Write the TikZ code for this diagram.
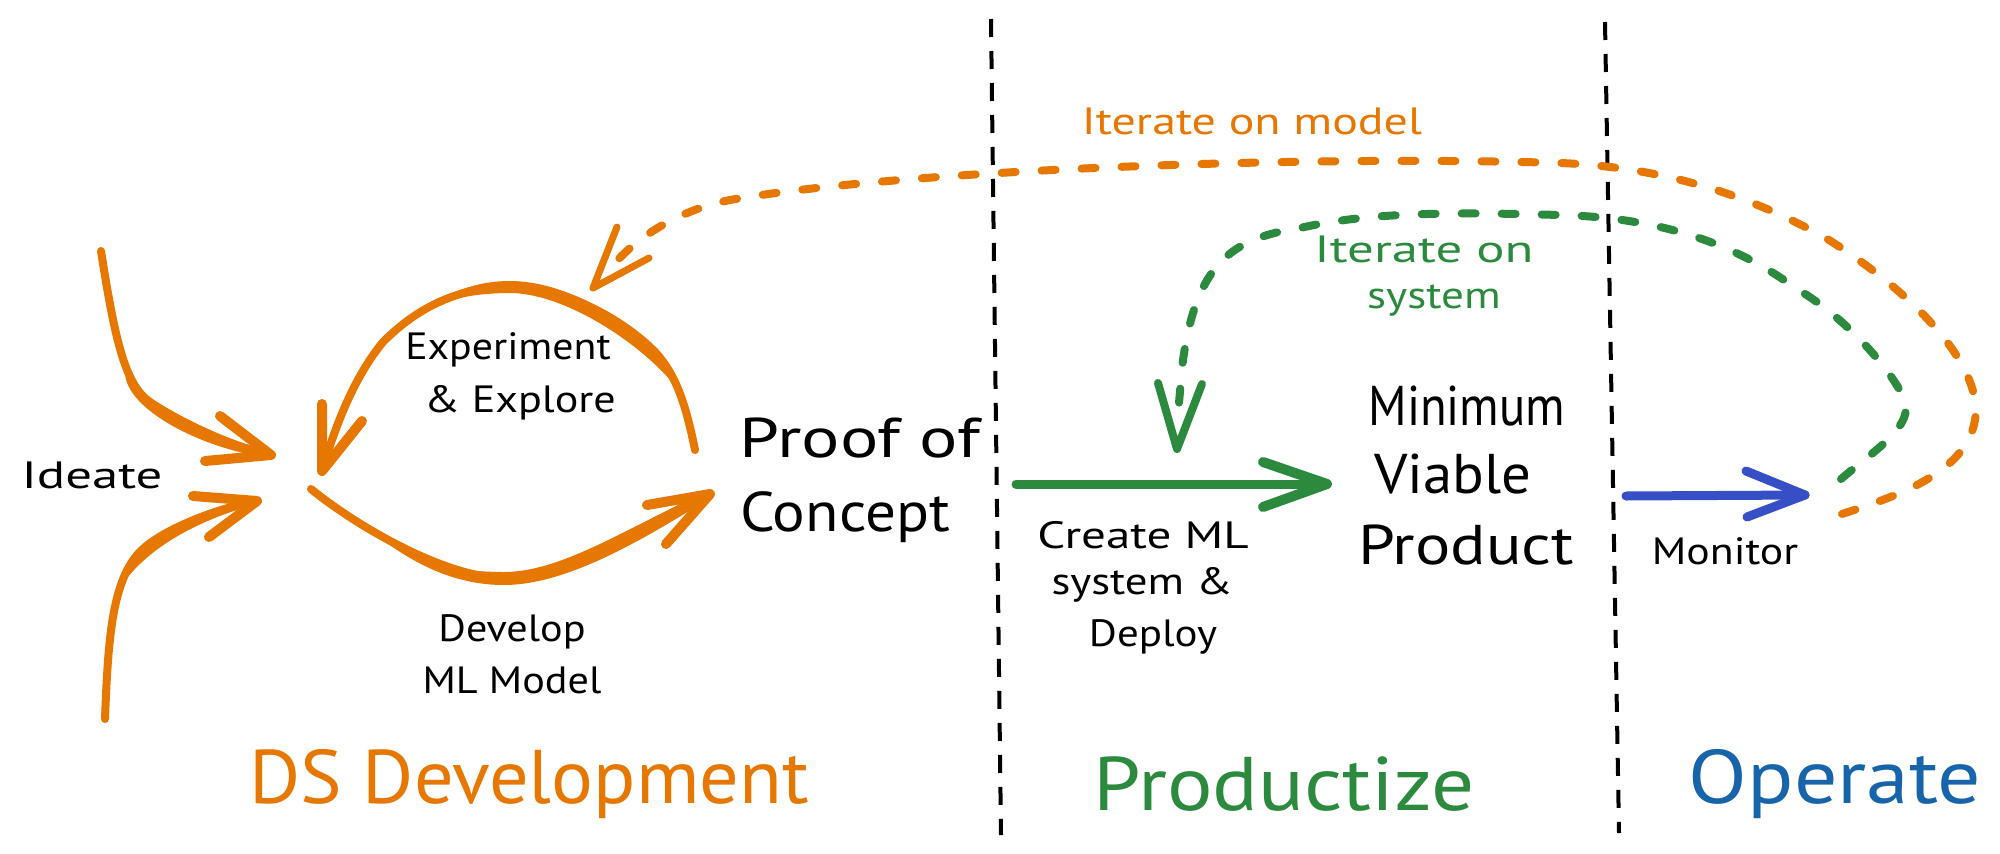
\documentclass[tikz,border=0pt]{standalone}
\usepackage{graphicx}
\usepackage{fontspec}
\setmainfont{PT Sans}
\definecolor{ds}{HTML}{E67700}
\definecolor{prod}{HTML}{2B8A3E}
\definecolor{oper}{HTML}{1864AB}
\definecolor{mon}{HTML}{364FC7}
\newcommand{\wid}[2]{\scalebox{#1}[1]{#2}}
\tikzset{
  lbl/.style={inner sep=0pt,align=center,font=\fontsize{38}{42}\selectfont},
  big/.style={inner sep=0pt,align=center,font=\fontsize{56}{64}\selectfont},
  title/.style={inner sep=0pt,align=center,font=\fontsize{76}{84}\selectfont},
  stroke/.style={line cap=round,line join=round,line width=#1},
  dsline/.style={draw=ds,stroke=8pt},
  dshead/.style={draw=ds,stroke=10pt},
  dsdash/.style={draw=ds,stroke=8pt,dash pattern=on 14pt off 26pt},
  prdash/.style={draw=prod,stroke=8pt,dash pattern=on 14pt off 26pt},
  sep/.style={draw=black,line width=4pt,dash pattern=on 18pt off 14pt},
}
\begin{document}
\begin{tikzpicture}[x=1pt,y=-1pt]
\useasboundingbox (0,0) rectangle (2000,854);
\fill[white] (0,0) rectangle (2000,854);
% coordinates
\coordinate (sepA1) at (991,19); \coordinate (sepA2) at (1001,835);
\coordinate (sepB1) at (1605,22); \coordinate (sepB2) at (1619,833);
\coordinate (topS) at (101,251); \coordinate (topT) at (271,455);
\coordinate (topB1) at (220,416); \coordinate (topB2) at (205,461);
\coordinate (botS) at (105,719); \coordinate (botT) at (257,501);
\coordinate (botB1) at (193,496); \coordinate (botB2) at (209,537);
\coordinate (expS) at (695,450); \coordinate (expT) at (322,471);
\coordinate (expB1) at (322,404); \coordinate (expB2) at (362,421);
\coordinate (devS) at (311,489); \coordinate (devT) at (710,494);
\coordinate (devB1) at (647,505); \coordinate (devB2) at (666,544);
\coordinate (itmS) at (1842,514); \coordinate (itmT) at (593,288);
\coordinate (itmB1) at (617,227); \coordinate (itmB2) at (649,258);
\coordinate (itsS) at (1841,479); \coordinate (itsT) at (1177,449);
\coordinate (itsB1) at (1158,383); \coordinate (itsB2) at (1202,384);
\coordinate (crS) at (1016,484); \coordinate (crT) at (1327,484);
\coordinate (crB1) at (1263,462); \coordinate (crB2) at (1263,507);
\coordinate (monS) at (1626,496); \coordinate (monT) at (1805,495);
\coordinate (monB1) at (1746,471); \coordinate (monB2) at (1747,517);
% separators
\draw[sep] (sepA1) -- (sepA2);
\draw[sep] (sepB1) -- (sepB2);
% ideate arrows
\draw[dsline] (topS) .. controls (115,340) and (125,385) .. (150,402) .. controls (172,417) and (225,445) .. (topT);
\fill[ds] (125,372) .. controls (140,400) and (210,437) .. (271,452) -- (271,458) .. controls (205,450) and (125,410) .. (125,372) -- cycle;
\draw[dshead] (topB1) -- (topT) -- (topB2);
\draw[dsline] (botS) .. controls (108,640) and (112,585) .. (137,555) .. controls (155,533) and (210,510) .. (botT);
\fill[ds] (113,600) .. controls (125,545) and (190,508) .. (257,498) -- (257,504) .. controls (190,522) and (135,555) .. (113,600) -- cycle;
\draw[dshead] (botB1) -- (botT) -- (botB2);
% experiment arc
\draw[dsline] (expS) .. controls (685,400) and (675,375) .. (657,354) .. controls (630,325) and (570,287) .. (510,287) .. controls (450,287) and (410,315) .. (383,342) .. controls (360,370) and (340,410) .. (expT);
\fill[ds] (680,392) .. controls (660,335) and (575,281) .. (510,281) .. controls (475,281) and (450,293) .. (420,308) .. controls (450,298) and (480,293) .. (510,293) .. controls (565,293) and (645,345) .. (680,392) -- cycle;
\draw[dshead] (expB1) -- (expT) -- (expB2);
% develop arc
\draw[dsline] (devS) .. controls (355,525) and (445,578) .. (504,578) .. controls (570,578) and (640,525) .. (devT);
\fill[ds] (360,522) .. controls (410,565) and (460,572) .. (504,572) .. controls (565,572) and (635,522) .. (710,491) -- (712,497) .. controls (650,535) and (570,585) .. (504,585) .. controls (450,585) and (405,560) .. (360,522) -- cycle;
\draw[dshead] (devB1) -- (devT) -- (devB2);
% iterate on model
\draw[dsdash] (itmS) .. controls (1900,495) and (1976,470) .. (1976,408) .. controls (1972,350) and (1900,285) .. (1829,240) .. controls (1780,212) and (1690,168) .. (1560,163) .. controls (1300,155) and (900,170) .. (730,200) .. controls (680,210) and (640,235) .. (615,263);
\draw[draw=ds,stroke=7pt] (itmB1) -- (itmT) -- (itmB2);
% iterate on system
\draw[prdash] (itsS) .. controls (1875,450) and (1908,430) .. (1906,405) .. controls (1900,380) and (1850,320) .. (1797,289) .. controls (1750,255) and (1680,218) .. (1560,215) .. controls (1450,212) and (1370,212) .. (1300,228) .. controls (1235,238) and (1195,260) .. (1182,368) -- (1179,403);
\draw[draw=prod,stroke=8pt] (itsB1) -- (itsT) -- (itsB2);
% create arrow
\draw[draw=prod,stroke=9pt] (crS) -- (crT);
\draw[draw=prod,stroke=10pt] (crB1) -- (crT) -- (crB2);
% monitor arrow
\draw[draw=mon,stroke=9pt] (monS) -- (monT);
\draw[draw=mon,stroke=9pt] (monB1) -- (monT) -- (monB2);
% texts
\node[lbl] (ideate) at (92,475) {\wid{1.39}{Ideate}};
\node[lbl] (exp1) at (508,350) {\wid{1.10}{Experiment}};
\node[lbl] (exp2) at (520,403) {\wid{1.16}{\& Explore}};
\node[big] (poc1) at (860,438) {\wid{1.28}{Proof of}};
\node[big] (poc2) at (845,517) {\wid{1.09}{Concept}};
\node[lbl] (dev1) at (512,632) {\wid{1.11}{Develop}};
\node[lbl] (dev2) at (512,680) {\wid{1.11}{ML Model}};
\node[title,text=ds] (tds) at (529,784) {\wid{1.03}{DS Development}};
\node[lbl,text=ds] (itm) at (1252,121) {\wid{1.26}{Iterate on model}};
\node[lbl,text=prod] (its1) at (1424,249) {\wid{1.39}{Iterate on}};
\node[lbl,text=prod] (its2) at (1434,301) {\wid{1.19}{system}};
\node[big] (mvp1) at (1467,406) {\wid{0.87}{Minimum}};
\node[big] (mvp2) at (1453,474) {\wid{1.05}{Viable}};
\node[big] (mvp3) at (1466,545) {\wid{1.18}{Product}};
\node[lbl] (cr1) at (1143,535) {\wid{1.29}{Create ML}};
\node[lbl] (cr2) at (1142,585) {\wid{1.18}{system \&}};
\node[lbl] (cr3) at (1153,637) {\wid{1.13}{Deploy}};
\node[lbl] (mon) at (1725,551) {\wid{1.15}{Monitor}};
\node[title,text=prod] (tpr) at (1284,784) {\wid{1.12}{Productize}};
\node[title,text=oper] (top) at (1835,784) {\wid{1.13}{Operate}};
\end{tikzpicture}
\end{document}
